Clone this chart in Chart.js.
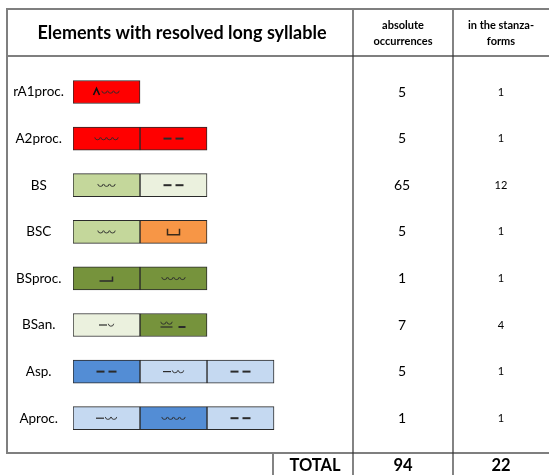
<!DOCTYPE html>
<html>
<head>
<meta charset="utf-8">
<script src="https://cdn.jsdelivr.net/npm/chart.js@4"></script>
<style>
html,body{margin:0;padding:0;background:#fff;}
canvas{display:block;}
</style>
</head>
<body>
<canvas id="c" width="549" height="475"></canvas>
<script>
// ---- data ----
const categories = ['rA1proc.', 'A2proc.', 'BS', 'BSC', 'BSproc.', 'BSan.', 'Asp.', 'Aproc.'];
const absoluteOccurrences = [5, 5, 65, 5, 1, 7, 5, 1];
const stanzaForms = [1, 1, 12, 1, 1, 4, 1, 1];
const segmentCounts = [1, 2, 2, 2, 2, 2, 3, 3];
const seg1Symbols = ['ʌ◡◡◡', '◡◡◡◡', '◡◡◡', '◡◡◡', '⌋', '–◡', '– –', '–◡◡'];
const seg2Symbols = [null, '– –', '– –', '␣', '◡◡◡◡', '◡◡ –', '–◡◡', '◡◡◡◡'];
const seg3Symbols = [null, null, null, null, null, null, '– –', '– –'];
const totalAbsolute = 94;
const totalStanza = 22;
const headerTitle = 'Elements with resolved long syllable';
const headerAbs = ['absolute', 'occurrences'];
const headerStanza = ['in the stanza-', 'forms'];

// ---- styles ----
const RED = '#FF0000', LGREEN = '#C4D79B', VLGREEN = '#EBF1DE', ORANGE = '#F79646',
      OLIVE = '#76933C', BLUE = '#538DD5', LBLUE = '#C5D9F1';
const seg1Colors = [RED, RED, LGREEN, LGREEN, OLIVE, VLGREEN, BLUE, LBLUE];
const seg2Colors = [RED, RED, VLGREEN, ORANGE, OLIVE, OLIVE, LBLUE, BLUE];
const seg3Colors = [RED, RED, RED, RED, RED, RED, LBLUE, LBLUE];

const segSymbols = [seg1Symbols, seg2Symbols, seg3Symbols];
const segColors = [seg1Colors, seg2Colors, seg3Colors];

const datasets = [0, 1, 2].map(k => ({
  label: 'segment ' + (k + 1),
  data: categories.map((_, i) => segmentCounts[i] > k ? [k, k + 1] : null),
  backgroundColor: segColors[k],
  borderColor: '#2a2a2a',
  borderWidth: 1,
  borderSkipped: false,
  barThickness: 23,
  grouped: false
}));

const BASE_FONT = 'Lato, "Open Sans", sans-serif';
const INK = '#2b2b2b';

function drawBreves(ctx, x, y, n) {
  ctx.save();
  ctx.strokeStyle = INK;
  ctx.lineWidth = 0.9;
  for (let j = 0; j < n; j++) {
    const cx = x + j * 6 + 3;
    ctx.beginPath();
    ctx.arc(cx, y - 2, 2.7, 0.03 * Math.PI, 0.97 * Math.PI);
    ctx.stroke();
  }
  ctx.restore();
  return n * 6;
}
function drawDash(ctx, x, y, w) {
  ctx.save();
  ctx.fillStyle = INK;
  ctx.fillRect(x, y - 1, w, 2);
  ctx.restore();
  return w;
}
function drawThinDash(ctx, x, y, w) {
  ctx.save();
  ctx.fillStyle = INK;
  ctx.fillRect(x, y - 0.6, w, 1.2);
  ctx.restore();
  return w;
}

function drawSymbol(ctx, s, cx, cy) {
  if (s === '– –') {
    drawDash(ctx, cx - 10, cy, 8);
    drawDash(ctx, cx + 2, cy, 8);
    return;
  }
  if (s === '⌋') {
    ctx.save();
    ctx.strokeStyle = INK; ctx.lineWidth = 1.5;
    ctx.beginPath();
    ctx.moveTo(cx - 7, cy + 2.5); ctx.lineTo(cx + 6, cy + 2.5); ctx.lineTo(cx + 6, cy - 2);
    ctx.stroke();
    ctx.restore();
    return;
  }
  if (s === '␣') {
    ctx.save();
    ctx.strokeStyle = '#3a2a1a'; ctx.lineWidth = 1.5;
    ctx.beginPath();
    ctx.moveTo(cx - 6, cy - 3); ctx.lineTo(cx - 6, cy + 3); ctx.lineTo(cx + 6, cy + 3); ctx.lineTo(cx + 6, cy - 3);
    ctx.stroke();
    ctx.restore();
    return;
  }
  if (s === '◡◡ –') {
    const x0 = cx - 13;
    drawBreves(ctx, x0, cy - 1.5, 2);
    drawThinDash(ctx, x0, cy + 2, 12);
    drawDash(ctx, cx + 5, cy + 2, 7);
    return;
  }
  if (s === 'ʌ◡◡◡') {
    ctx.save();
    ctx.strokeStyle = '#111'; ctx.lineWidth = 1.6;
    ctx.beginPath();
    ctx.moveTo(cx - 13, cy + 3); ctx.lineTo(cx - 10, cy - 3.5); ctx.lineTo(cx - 7, cy + 3);
    ctx.stroke();
    ctx.restore();
    drawBreves(ctx, cx - 5, cy + 0.5, 3);
    return;
  }
  let w = 0;
  for (const ch of s) w += ch === '–' ? 9 : 6;
  let x = cx - w / 2;
  for (const ch of s) {
    if (ch === '–') { drawThinDash(ctx, x, cy, 8); x += 9; }
    else if (ch === '◡') { drawBreves(ctx, x, cy + 0.5, 1); x += 6; }
  }
}

const symbolPlugin = {
  id: 'symbols',
  afterDatasetsDraw(chart) {
    const ctx = chart.ctx;
    chart.data.datasets.forEach((ds, k) => {
      const meta = chart.getDatasetMeta(k);
      meta.data.forEach((el, i) => {
        const s = segSymbols[k][i];
        if (!s || ds.data[i] == null) return;
        const cx = (el.x + el.base) / 2;
        drawSymbol(ctx, s, cx, el.y);
      });
    });
  }
};

const tablePlugin = {
  id: 'table',
  afterDraw(chart) {
    const ctx = chart.ctx;
    const y = chart.scales.y;
    ctx.save();
    ctx.strokeStyle = '#7f7f7f';
    ctx.lineWidth = 2;
    ctx.beginPath();
    ctx.moveTo(560, 9); ctx.lineTo(7, 9); ctx.lineTo(7, 453); ctx.lineTo(560, 453);
    ctx.moveTo(7, 56); ctx.lineTo(560, 56);
    ctx.stroke();
    ctx.strokeStyle = '#333';
    ctx.lineWidth = 1.2;
    ctx.beginPath();
    ctx.moveTo(353, 10); ctx.lineTo(353, 475);
    ctx.moveTo(453, 10); ctx.lineTo(453, 475);
    ctx.moveTo(273, 454); ctx.lineTo(273, 475);
    ctx.stroke();

    ctx.fillStyle = '#000';
    ctx.textAlign = 'center';
    ctx.textBaseline = 'middle';
    ctx.font = 'bold 18px ' + BASE_FONT;
    ctx.fillText(headerTitle, 182, 33);
    ctx.font = 'bold 11px ' + BASE_FONT;
    ctx.fillText(headerAbs[0], 403, 25);
    ctx.fillText(headerAbs[1], 403, 41);
    ctx.fillText(headerStanza[0], 501, 25);
    ctx.fillText(headerStanza[1], 501, 41);

    categories.forEach((_, i) => {
      const py = y.getPixelForValue(i);
      ctx.font = '14px ' + BASE_FONT;
      ctx.fillText(String(absoluteOccurrences[i]), 402, py);
      ctx.font = '11px ' + BASE_FONT;
      ctx.fillText(String(stanzaForms[i]), 501, py);
    });

    ctx.font = 'bold 16.5px ' + BASE_FONT;
    ctx.fillText('TOTAL', 315, 466);
    ctx.fillText(String(totalAbsolute), 403, 466);
    ctx.fillText(String(totalStanza), 501, 466);
    ctx.restore();
  }
};

new Chart(document.getElementById('c'), {
  type: 'bar',
  data: { labels: categories, datasets },
  options: {
    indexAxis: 'y',
    responsive: false,
    animation: false,
    devicePixelRatio: 1,
    layout: { padding: { left: 7, right: 7, top: 68.7, bottom: 33.5 } },
    plugins: { legend: { display: false }, tooltip: { enabled: false }, title: { display: false } },
    scales: {
      x: { display: false, min: 0, max: 7 },
      y: {
        afterFit(scale) { scale.width = 66; },
        grid: { display: false, drawTicks: false },
        border: { display: false },
        ticks: {
          crossAlign: 'center',
          padding: 9,
          color: '#000',
          font: { family: BASE_FONT, size: 13.5 }
        }
      }
    }
  },
  plugins: [symbolPlugin, tablePlugin]
});
</script>
</body>
</html>
